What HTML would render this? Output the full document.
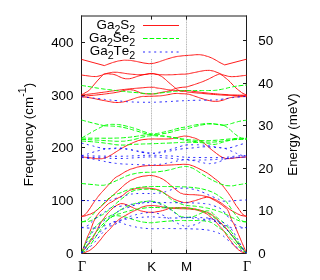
<!DOCTYPE html>
<html><head><meta charset="utf-8"><title>Phonon dispersion</title>
<style>
html,body{margin:0;padding:0;background:#fff;}
body{width:320px;height:280px;overflow:hidden;font-family:"Liberation Sans",sans-serif;}
svg{display:block;}
text{font-family:"Liberation Sans",sans-serif;font-size:13.4px;fill:#000;font-kerning:none;}
.sym{font-family:"Liberation Serif",serif;font-size:14px;}
.r{fill:none;stroke:#ff0000;stroke-width:0.9;}
.g{fill:none;stroke:#00ff00;stroke-width:1;stroke-dasharray:4.6 2;}
.b{fill:none;stroke:#0000ff;stroke-width:0.85;stroke-dasharray:2 3.6;}
.ax{fill:none;stroke:#1c1c1c;stroke-width:1;}
.grid0{fill:none;stroke:#e6e6e6;stroke-width:1;}
.grid{fill:none;stroke:#b4b4b4;stroke-width:1;stroke-dasharray:1 1.45;}
</style></head><body>
<svg width="320" height="280" viewBox="0 0 320 280">
<rect x="0" y="0" width="320" height="280" fill="#fff"/>
<g id="all" style="will-change:transform">
<!-- vertical guide lines -->
<path class="grid0" d="M151.5 59V250M186.5 19.5V250"/>
<path class="grid" d="M151.5 59V250M186.5 19.5V250"/>
<!-- frame + ticks -->
<path class="ax" d="M81.5 15.5V253.5H246.5V15.5M81 16H247"/>
<path class="ax" d="M82 42.5H85M82 95.5H85M82 147.5H85M82 200.5H85
M246 40.5H243M246 83.5H243M246 125.5H243M246 168.5H243M246 210.5H243
M151.5 16V19.6M186.5 16V19.6M151.5 253V249.6M186.5 253V249.6"/>
<!-- curves -->
<g>
<path class="r" d="M81.50 59.40L104.40 65.60M104.40 65.60C106.27 64.90 106.47 64.73 110.00 63.50C113.53 62.27 111.33 62.87 115.00 61.90C118.67 60.93 116.83 61.15 121.00 60.60C125.17 60.05 123.17 60.12 127.50 60.25C131.83 60.38 129.83 60.35 134.00 61.00C138.17 61.65 136.00 61.43 140.00 62.20C144.00 62.97 142.17 62.87 146.00 63.30C149.83 63.73 147.83 63.80 151.50 63.50C155.17 63.20 153.33 63.37 157.00 62.40C160.67 61.43 158.50 61.90 162.50 60.60C166.50 59.30 164.83 59.73 169.00 58.50C173.17 57.27 171.00 57.73 175.00 56.90C179.00 56.07 177.17 56.47 181.00 56.00C184.83 55.53 182.83 55.80 186.50 55.50C190.17 55.20 188.50 55.37 192.00 55.10C195.50 54.83 193.67 54.73 197.00 54.70C200.33 54.67 199.00 54.57 202.00 55.00C205.00 55.43 203.33 55.23 206.00 56.00C208.67 56.77 207.00 56.07 210.00 57.30C213.00 58.53 211.67 57.93 215.00 59.70C218.33 61.47 216.77 60.87 220.00 62.60C223.23 64.33 223.13 64.13 224.70 64.90M224.70 64.90L246.50 59.20"/>
<path class="r" d="M81.50 75.00C83.67 75.30 83.92 75.40 88.00 75.90C92.08 76.40 90.08 76.47 93.75 76.50C97.42 76.53 95.42 76.83 99.00 76.00C102.58 75.17 102.67 74.67 104.50 74.00M104.50 74.00C106.33 73.60 106.50 73.38 110.00 72.80C113.50 72.22 111.33 72.25 115.00 72.25C118.67 72.25 116.83 72.30 121.00 72.80C125.17 73.30 123.17 73.22 127.50 73.75C131.83 74.28 129.83 74.07 134.00 74.40C138.17 74.73 136.00 74.78 140.00 74.75C144.00 74.72 142.17 74.68 146.00 74.30C149.83 73.92 147.83 73.60 151.50 73.60C155.17 73.60 153.33 73.92 157.00 74.30C160.67 74.68 158.50 74.58 162.50 74.75C166.50 74.92 164.83 74.85 169.00 74.80C173.17 74.75 171.00 74.80 175.00 74.60C179.00 74.40 177.17 74.40 181.00 74.20C184.83 74.00 182.83 74.40 186.50 74.00C190.17 73.60 188.50 73.67 192.00 73.00C195.50 72.33 193.67 72.67 197.00 72.00C200.33 71.33 198.53 71.53 202.00 71.00C205.47 70.47 204.07 70.47 207.40 70.40C210.73 70.33 209.13 70.27 212.00 70.80C214.87 71.33 212.83 70.83 216.00 72.00C219.17 73.17 219.67 73.53 221.50 74.30M221.50 74.30C223.00 74.77 223.23 74.97 226.00 75.70C228.77 76.43 227.13 76.20 229.80 76.50C232.47 76.80 231.27 76.67 234.00 76.60C236.73 76.53 235.33 76.57 238.00 76.30C240.67 76.03 239.17 76.13 242.00 75.80C244.83 75.47 245.00 75.47 246.50 75.30"/>
<path class="r" d="M81.50 94.75C82.67 94.13 82.37 94.48 85.00 92.90C87.63 91.32 86.48 92.63 89.40 90.00C92.32 87.37 90.55 88.67 93.75 85.00C96.95 81.33 95.67 82.60 99.00 79.00C102.33 75.40 102.17 75.80 103.75 74.20M103.75 74.20C104.83 74.07 104.92 73.87 107.00 73.80C109.08 73.73 107.33 73.67 110.00 74.00C112.67 74.33 111.67 73.80 115.00 74.80C118.33 75.80 117.00 75.80 120.00 77.00C123.00 78.20 121.50 77.82 124.00 78.40C126.50 78.98 125.17 78.75 127.50 78.75C129.83 78.75 128.83 78.82 131.00 78.40C133.17 77.98 131.00 78.43 134.00 77.50C137.00 76.57 136.00 76.67 140.00 75.60C144.00 74.53 142.17 74.92 146.00 74.30C149.83 73.68 148.17 73.75 151.50 73.75C154.83 73.75 153.17 73.68 156.00 74.30C158.83 74.92 157.33 74.27 160.00 75.60C162.67 76.93 161.08 76.00 164.00 78.30C166.92 80.60 165.92 80.07 168.75 82.50C171.58 84.93 170.00 83.52 172.50 85.60C175.00 87.68 174.08 87.12 176.25 88.75C178.42 90.38 177.08 89.65 179.00 90.50C180.92 91.35 179.50 90.97 182.00 91.30C184.50 91.63 185.00 91.43 186.50 91.50"/>
<path class="r" d="M186.50 87.00C188.33 86.43 188.17 86.53 192.00 85.30C195.83 84.07 193.53 84.90 198.00 83.30C202.47 81.70 200.73 82.50 205.40 80.50C210.07 78.50 208.47 79.03 212.00 77.30C215.53 75.57 213.47 76.40 216.00 75.30C218.53 74.20 218.40 74.43 219.60 74.00M219.60 74.00C220.40 74.40 220.20 74.03 222.00 75.20C223.80 76.37 222.73 75.67 225.00 77.50C227.27 79.33 226.47 78.53 228.80 80.70C231.13 82.87 229.63 81.60 232.00 84.00C234.37 86.40 233.23 85.47 235.90 87.90C238.57 90.33 237.63 89.47 240.00 91.30C242.37 93.13 240.83 92.23 243.00 93.40C245.17 94.57 245.33 94.33 246.50 94.80"/>
<path class="r" d="M81.50 94.90C84.33 94.60 83.83 94.73 90.00 94.00C96.17 93.27 94.00 93.50 100.00 92.70C106.00 91.90 103.00 92.30 108.00 91.60C113.00 90.90 110.00 91.27 115.00 90.60C120.00 89.93 117.67 90.22 123.00 89.60C128.33 88.98 125.33 89.28 131.00 88.75C136.67 88.22 133.17 88.50 140.00 88.00C146.83 87.50 145.83 87.25 151.50 87.25C157.17 87.25 153.33 87.50 157.00 88.00C160.67 88.50 158.17 88.08 162.50 88.75C166.83 89.42 165.00 89.38 170.00 90.00C175.00 90.62 172.00 90.40 177.50 90.60C183.00 90.80 180.67 90.27 186.50 90.60C192.33 90.93 188.83 90.87 195.00 91.60C201.17 92.33 198.17 92.07 205.00 92.80C211.83 93.53 208.83 93.23 215.50 93.80C222.17 94.37 218.50 94.10 225.00 94.50C231.50 94.90 227.83 94.77 235.00 95.00C242.17 95.23 242.67 95.13 246.50 95.20"/>
<path class="r" d="M81.50 96.40C84.33 96.13 83.83 96.20 90.00 95.60C96.17 95.00 94.00 95.27 100.00 94.60C106.00 93.93 103.00 94.27 108.00 93.60C113.00 92.93 111.00 93.27 115.00 92.60C119.00 91.93 117.00 92.30 120.00 91.60C123.00 90.90 121.33 91.12 124.00 90.50C126.67 89.88 125.33 89.95 128.00 89.75C130.67 89.55 129.67 89.62 132.00 89.90C134.33 90.18 132.67 89.83 135.00 90.60C137.33 91.37 136.67 91.30 139.00 92.20C141.33 93.10 139.67 92.77 142.00 93.30C144.33 93.83 142.83 93.57 146.00 93.80C149.17 94.03 147.83 94.17 151.50 94.00C155.17 93.83 153.17 93.93 157.00 93.30C160.83 92.67 159.08 92.87 163.00 92.10C166.92 91.33 165.75 91.70 168.75 91.00C171.75 90.30 169.92 90.75 172.00 90.00C174.08 89.25 172.33 89.55 175.00 88.75C177.67 87.95 176.17 88.18 180.00 87.60C183.83 87.02 184.33 87.20 186.50 87.00"/>
<path class="r" d="M186.50 92.00C189.33 92.27 188.83 92.23 195.00 92.80C201.17 93.37 198.17 93.10 205.00 93.70C211.83 94.30 208.83 94.10 215.50 94.60C222.17 95.10 218.50 94.87 225.00 95.20C231.50 95.53 227.83 95.40 235.00 95.60C242.17 95.80 242.67 95.73 246.50 95.80"/>
<path class="r" d="M81.50 96.90C84.33 97.20 83.83 96.83 90.00 97.80C96.17 98.77 94.00 98.63 100.00 99.80C106.00 100.97 103.67 100.50 108.00 101.30C112.33 102.10 110.00 101.80 113.00 102.20C116.00 102.60 114.33 102.50 117.00 102.50C119.67 102.50 118.33 102.53 121.00 102.20C123.67 101.87 121.33 102.47 125.00 101.50C128.67 100.53 127.00 100.83 132.00 99.30C137.00 97.77 135.33 97.87 140.00 96.90C144.67 95.93 142.17 96.62 146.00 96.40C149.83 96.18 147.83 96.38 151.50 96.25C155.17 96.12 153.33 96.22 157.00 96.00C160.67 95.78 158.50 96.10 162.50 95.60C166.50 95.10 164.83 95.20 169.00 94.50C173.17 93.80 171.00 93.77 175.00 93.50C179.00 93.23 177.17 93.53 181.00 93.70C184.83 93.87 183.17 93.60 186.50 94.00C189.83 94.40 187.83 94.03 191.00 94.90C194.17 95.77 192.33 95.37 196.00 96.60C199.67 97.83 198.00 97.37 202.00 98.60C206.00 99.83 203.50 99.40 208.00 100.30C212.50 101.20 210.83 101.27 215.50 101.30C220.17 101.33 218.17 101.27 222.00 100.40C225.83 99.53 223.73 99.70 227.00 98.70C230.27 97.70 228.13 98.03 231.80 97.40C235.47 96.77 233.10 97.07 238.00 96.80C242.90 96.53 243.67 96.67 246.50 96.60"/>
<path class="r" d="M81.50 156.90C84.33 157.20 84.25 157.18 90.00 157.80C95.75 158.42 93.75 158.75 98.75 158.75C103.75 158.75 101.25 158.85 105.00 157.80C108.75 156.75 106.67 157.37 110.00 155.60C113.33 153.83 111.67 154.57 115.00 152.50C118.33 150.43 116.67 151.40 120.00 149.40C123.33 147.40 121.25 148.47 125.00 146.50C128.75 144.53 127.58 145.17 131.25 143.50C134.92 141.83 133.08 142.60 136.00 141.50C138.92 140.40 136.67 140.93 140.00 140.20C143.33 139.47 142.17 139.70 146.00 139.30C149.83 138.90 146.83 139.10 151.50 139.00C156.17 138.90 153.83 139.07 160.00 139.00C166.17 138.93 164.67 139.20 170.00 138.80C175.33 138.40 172.25 138.53 176.00 137.80C179.75 137.07 177.75 137.13 181.25 136.60C184.75 136.07 182.75 135.90 186.50 136.20C190.25 136.50 189.33 136.70 192.50 137.50C195.67 138.30 193.50 137.57 196.00 138.60C198.50 139.63 197.67 139.30 200.00 140.60C202.33 141.90 200.92 141.03 203.00 142.50C205.08 143.97 203.50 142.70 206.25 145.00C209.00 147.30 208.33 146.97 211.25 149.40C214.17 151.83 212.75 150.57 215.00 152.30C217.25 154.03 216.00 153.17 218.00 154.60C220.00 156.03 219.00 155.50 221.00 156.60C223.00 157.70 221.83 157.23 224.00 157.90C226.17 158.57 224.83 158.47 227.50 158.60C230.17 158.73 228.50 158.63 232.00 158.30C235.50 157.97 233.17 158.07 238.00 157.60C242.83 157.13 243.67 157.13 246.50 156.90"/>
<path class="r" d="M81.50 216.25C82.67 215.67 82.58 216.58 85.00 214.50C87.42 212.42 85.83 214.00 88.75 210.00C91.67 206.00 91.25 206.10 93.75 202.50C96.25 198.90 94.37 201.70 96.25 199.20C98.13 196.70 96.48 198.48 99.40 195.00C102.32 191.52 101.05 193.12 105.00 188.75C108.95 184.38 107.92 185.48 111.25 181.90C114.58 178.32 112.08 180.30 115.00 178.00C117.92 175.70 115.83 177.47 120.00 175.00C124.17 172.53 122.83 172.87 127.50 170.60C132.17 168.33 129.83 169.53 134.00 168.20C138.17 166.87 136.00 167.40 140.00 166.60C144.00 165.80 142.17 166.17 146.00 165.80C149.83 165.43 146.83 165.63 151.50 165.50C156.17 165.37 153.83 165.57 160.00 165.40C166.17 165.23 164.00 165.27 170.00 165.00C176.00 164.73 172.50 164.80 178.00 164.60C183.50 164.40 182.17 164.17 186.50 164.40C190.83 164.63 188.17 164.50 191.00 165.30C193.83 166.10 192.00 165.50 195.00 166.80C198.00 168.10 196.53 167.47 200.00 169.20C203.47 170.93 202.07 170.07 205.40 172.00C208.73 173.93 206.63 172.58 210.00 175.00C213.37 177.42 212.50 176.92 215.50 179.25C218.50 181.58 216.67 179.88 219.00 182.00C221.33 184.12 220.27 183.07 222.50 185.60C224.73 188.13 223.62 186.88 225.70 189.60C227.78 192.32 226.65 190.72 228.75 193.75C230.85 196.78 229.92 195.37 232.00 198.70C234.08 202.03 233.00 200.65 235.00 203.75C237.00 206.85 236.33 205.65 238.00 208.00C239.67 210.35 238.33 208.63 240.00 210.80C241.67 212.97 240.83 212.67 243.00 214.50C245.17 216.33 245.33 215.70 246.50 216.30"/>
<path class="r" d="M81.50 253.00C82.50 250.33 82.50 250.33 84.50 245.00C86.50 239.67 85.47 242.00 87.50 237.00C89.53 232.00 89.10 233.67 90.60 230.00C92.10 226.33 90.53 229.67 92.00 226.00C93.47 222.33 92.67 223.33 95.00 219.00C97.33 214.67 96.67 216.00 99.00 213.00C101.33 210.00 99.33 212.67 102.00 210.00C104.67 207.33 104.33 207.40 107.00 205.00C109.67 202.60 108.33 203.87 110.00 202.80C111.67 201.73 109.67 203.20 112.00 201.80C114.33 200.40 114.00 200.37 117.00 198.60C120.00 196.83 118.33 198.17 121.00 196.50C123.67 194.83 122.83 195.23 125.00 193.60C127.17 191.97 124.83 193.00 127.50 191.60C130.17 190.20 128.83 190.57 133.00 189.40C137.17 188.23 135.67 188.53 140.00 188.10C144.33 187.67 142.17 187.97 146.00 188.10C149.83 188.23 148.17 188.10 151.50 188.50C154.83 188.90 153.17 188.60 156.00 189.30C158.83 190.00 156.58 188.90 160.00 190.60C163.42 192.30 162.08 191.83 166.25 194.40C170.42 196.97 169.58 196.57 172.50 198.30C175.42 200.03 172.08 198.43 175.00 199.60C177.92 200.77 177.42 200.83 181.25 201.80C185.08 202.77 182.75 202.68 186.50 202.50C190.25 202.32 189.00 202.08 192.50 201.25C196.00 200.42 194.08 200.88 197.00 200.00C199.92 199.12 198.58 199.40 201.25 198.60C203.92 197.80 202.58 198.00 205.00 197.60C207.42 197.20 205.83 196.77 208.50 197.40C211.17 198.03 209.58 197.70 213.00 199.50C216.42 201.30 215.08 200.43 218.75 202.80C222.42 205.17 221.42 204.60 224.00 206.60C226.58 208.60 225.00 207.10 226.50 208.80C228.00 210.50 227.00 208.50 228.50 211.70C230.00 214.90 229.50 214.80 231.00 218.40C232.50 222.00 231.60 219.70 233.00 222.50C234.40 225.30 232.87 221.63 235.20 226.80C237.53 231.97 237.40 231.93 240.00 238.00C242.60 244.07 240.83 240.00 243.00 245.00C245.17 250.00 245.33 250.33 246.50 253.00"/>
<path class="r" d="M81.50 216.50C82.67 216.30 82.83 216.47 85.00 215.90C87.17 215.33 85.67 215.67 88.00 214.80C90.33 213.93 89.00 214.90 92.00 213.30C95.00 211.70 93.67 212.60 97.00 210.00C100.33 207.40 98.67 208.50 102.00 205.50C105.33 202.50 104.33 203.50 107.00 201.00C109.67 198.50 107.83 200.07 110.00 198.00C112.17 195.93 111.17 196.93 113.50 194.80C115.83 192.67 114.83 193.53 117.00 191.60C119.17 189.67 116.50 192.03 120.00 189.00C123.50 185.97 122.83 185.83 127.50 182.50C132.17 179.17 129.83 180.87 134.00 179.00C138.17 177.13 136.00 177.93 140.00 176.90C144.00 175.87 142.17 176.33 146.00 175.90C149.83 175.47 147.67 175.27 151.50 175.60C155.33 175.93 154.33 176.00 157.50 176.90C160.67 177.80 158.50 177.07 161.00 178.30C163.50 179.53 162.33 178.77 165.00 180.60C167.67 182.43 166.50 181.70 169.00 183.80C171.50 185.90 169.25 184.20 172.50 186.90C175.75 189.60 175.58 189.70 178.75 191.90C181.92 194.10 179.42 192.67 182.00 193.50C184.58 194.33 181.33 193.90 186.50 194.40C191.67 194.90 191.33 194.38 197.50 195.00C203.67 195.62 200.00 195.08 205.00 196.25C210.00 197.42 207.50 196.48 212.50 198.50C217.50 200.52 215.42 199.50 220.00 202.30C224.58 205.10 222.58 204.27 226.25 206.90C229.92 209.53 228.08 208.33 231.00 210.20C233.92 212.07 232.33 211.07 235.00 212.50C237.67 213.93 236.67 213.47 239.00 214.50C241.33 215.53 239.50 215.00 242.00 215.60C244.50 216.20 245.00 216.07 246.50 216.30"/>
<path class="r" d="M81.50 253.00C83.33 250.67 83.33 250.92 87.00 246.00C90.67 241.08 89.50 242.92 92.50 238.25C95.50 233.58 93.83 236.08 96.00 232.00C98.17 227.92 97.00 229.67 99.00 226.00C101.00 222.33 100.17 223.83 102.00 221.00C103.83 218.17 102.83 219.77 104.50 217.50C106.17 215.23 105.33 216.20 107.00 214.20C108.67 212.20 107.83 213.23 109.50 211.50C111.17 209.77 110.17 210.67 112.00 209.00C113.83 207.33 112.67 208.07 115.00 206.50C117.33 204.93 116.67 205.23 119.00 204.30C121.33 203.37 119.67 203.60 122.00 203.70C124.33 203.80 122.92 203.53 126.00 204.60C129.08 205.67 127.58 205.30 131.25 206.90C134.92 208.50 132.83 207.87 137.00 209.40C141.17 210.93 138.92 210.55 143.75 211.50C148.58 212.45 147.08 212.18 151.50 212.25C155.92 212.32 153.33 212.25 157.00 211.70C160.67 211.15 159.17 211.43 162.50 210.60C165.83 209.77 164.50 209.97 167.00 209.20C169.50 208.43 166.50 208.83 170.00 208.30C173.50 207.77 172.00 207.77 177.50 207.60C183.00 207.43 181.67 207.50 186.50 207.80C191.33 208.10 188.33 207.93 192.00 208.50C195.67 209.07 193.17 208.47 197.50 209.50C201.83 210.53 200.83 210.23 205.00 211.60C209.17 212.97 207.00 211.97 210.00 213.60C213.00 215.23 211.20 214.20 214.00 216.50C216.80 218.80 215.57 217.83 218.40 220.50C221.23 223.17 219.70 221.67 222.50 224.50C225.30 227.33 223.30 224.83 226.80 229.00C230.30 233.17 228.60 231.33 233.00 237.00C237.40 242.67 235.50 240.67 240.00 246.00C244.50 251.33 244.33 250.67 246.50 253.00"/>
<path class="r" d="M81.50 253.00C83.00 252.67 82.33 253.58 86.00 252.00C89.67 250.42 88.17 251.75 92.50 248.25C96.83 244.75 94.83 246.25 99.00 241.50C103.17 236.75 101.53 237.97 105.00 234.00C108.47 230.03 106.90 232.27 109.40 229.60C111.90 226.93 110.30 228.47 112.50 226.00C114.70 223.53 113.50 224.63 116.00 222.20C118.50 219.77 117.83 220.40 120.00 218.70C122.17 217.00 120.17 218.47 122.50 217.10C124.83 215.73 124.08 216.20 127.00 214.60C129.92 213.00 127.92 213.97 131.25 212.30C134.58 210.63 132.83 211.50 137.00 209.60C141.17 207.70 138.92 207.93 143.75 206.60C148.58 205.27 147.08 205.80 151.50 205.60C155.92 205.40 153.33 205.57 157.00 206.00C160.67 206.43 158.17 206.20 162.50 206.90C166.83 207.60 164.83 207.53 170.00 208.10C175.17 208.67 172.50 208.33 178.00 208.60C183.50 208.87 181.83 208.63 186.50 208.90C191.17 209.17 188.33 208.93 192.00 209.40C195.67 209.87 193.17 209.10 197.50 210.30C201.83 211.50 200.83 210.93 205.00 213.00C209.17 215.07 206.67 213.83 210.00 216.50C213.33 219.17 212.00 218.00 215.00 221.00C218.00 224.00 216.20 222.33 219.00 225.50C221.80 228.67 220.57 226.83 223.40 230.50C226.23 234.17 224.70 232.57 227.50 236.50C230.30 240.43 228.97 238.63 231.80 242.30C234.63 245.97 233.27 244.67 236.00 247.50C238.73 250.33 237.67 249.20 240.00 250.80C242.33 252.40 240.83 251.57 243.00 252.30C245.17 253.03 245.33 252.77 246.50 253.00"/>
<path class="g" d="M81.50 85.40C84.33 85.87 83.83 85.77 90.00 86.80C96.17 87.83 93.33 87.50 100.00 88.50C106.67 89.50 103.33 88.97 110.00 89.80C116.67 90.63 111.67 90.10 120.00 91.00C128.33 91.90 124.50 91.58 135.00 92.50C145.50 93.42 143.17 93.58 151.50 93.75C159.83 93.92 153.83 93.62 160.00 93.00C166.17 92.38 164.00 92.53 170.00 91.90C176.00 91.27 172.50 91.53 178.00 91.10C183.50 90.67 179.17 90.77 186.50 90.60C193.83 90.43 192.17 90.63 200.00 90.60C207.83 90.57 204.83 90.60 210.00 90.50C215.17 90.40 212.17 90.60 215.50 90.30C218.83 90.00 216.83 90.17 220.00 89.60C223.17 89.03 221.07 89.47 225.00 88.60C228.93 87.73 226.80 87.97 231.80 87.00C236.80 86.03 235.10 86.37 240.00 85.70C244.90 85.03 244.33 85.23 246.50 85.00"/>
<path class="g" d="M81.50 120.00C85.00 120.93 84.58 120.93 92.00 122.80C99.42 124.67 99.83 124.67 103.75 125.60M103.75 125.60C105.50 125.27 105.25 125.00 109.00 124.60C112.75 124.20 111.33 124.33 115.00 124.40C118.67 124.47 116.67 124.33 120.00 124.80C123.33 125.27 120.00 124.57 125.00 125.80C130.00 127.03 128.33 126.43 135.00 128.50C141.67 130.57 139.50 130.25 145.00 132.00C150.50 133.75 147.83 133.22 151.50 133.75C155.17 134.28 153.17 133.92 156.00 133.60C158.83 133.28 155.33 133.77 160.00 132.80C164.67 131.83 164.00 132.17 170.00 130.70C176.00 129.23 172.50 129.70 178.00 128.40C183.50 127.10 181.83 127.73 186.50 126.80C191.17 125.87 188.50 126.30 192.00 125.60C195.50 124.90 193.00 125.30 197.00 124.70C201.00 124.10 199.67 124.20 204.00 123.80C208.33 123.40 205.67 123.37 210.00 123.50C214.33 123.63 212.42 123.62 217.00 124.20C221.58 124.78 221.50 124.90 223.75 125.25M223.75 125.25C225.50 124.90 225.25 125.12 229.00 124.20C232.75 123.28 231.00 123.57 235.00 122.50C239.00 121.43 237.17 121.75 241.00 121.00C244.83 120.25 244.67 120.50 246.50 120.25"/>
<path class="g" d="M81.50 138.10C83.00 137.23 82.50 137.53 86.00 135.50C89.50 133.47 88.00 134.27 92.00 132.00C96.00 129.73 94.08 130.77 98.00 128.70C101.92 126.63 101.83 126.77 103.75 125.80M103.75 125.80C105.50 125.87 105.25 125.85 109.00 126.00C112.75 126.15 111.33 125.98 115.00 126.25C118.67 126.52 116.67 126.28 120.00 126.80C123.33 127.32 120.00 126.57 125.00 127.80C130.00 129.03 128.33 128.60 135.00 130.50C141.67 132.40 139.50 132.00 145.00 133.50C150.50 135.00 147.83 134.53 151.50 135.00C155.17 135.47 153.17 135.17 156.00 134.90C158.83 134.63 155.33 135.03 160.00 134.20C164.67 133.37 164.00 133.73 170.00 132.40C176.00 131.07 172.50 131.43 178.00 130.20C183.50 128.97 181.83 129.67 186.50 128.70C191.17 127.73 188.50 128.20 192.00 127.30C195.50 126.40 193.00 126.90 197.00 126.00C201.00 125.10 199.67 125.27 204.00 124.60C208.33 123.93 205.67 124.03 210.00 124.00C214.33 123.97 212.42 124.03 217.00 124.50C221.58 124.97 221.50 125.10 223.75 125.40M223.75 125.40C225.17 126.27 225.08 125.83 228.00 128.00C230.92 130.17 229.83 129.63 232.50 131.90C235.17 134.17 233.50 132.93 236.00 134.80C238.50 136.67 237.67 136.27 240.00 137.50C242.33 138.73 240.83 138.08 243.00 138.50C245.17 138.92 245.33 138.67 246.50 138.75"/>
<path class="g" d="M81.50 138.10C87.67 138.13 88.83 138.20 100.00 138.20C111.17 138.20 106.67 138.30 115.00 138.10C123.33 137.90 118.33 138.13 125.00 137.60C131.67 137.07 129.00 137.30 135.00 136.50C141.00 135.70 137.50 135.87 143.00 135.20C148.50 134.53 145.83 134.37 151.50 134.50C157.17 134.63 155.17 135.03 160.00 135.60C164.83 136.17 161.00 135.50 166.00 136.20C171.00 136.90 168.17 136.63 175.00 137.70C181.83 138.77 179.83 138.57 186.50 139.40C193.17 140.23 189.25 139.80 195.00 140.20C200.75 140.60 197.08 140.57 203.75 140.60C210.42 140.63 207.92 140.70 215.00 140.30C222.08 139.90 218.33 140.00 225.00 139.40C231.67 138.80 227.83 138.93 235.00 138.50C242.17 138.07 242.67 138.23 246.50 138.10"/>
<path class="g" d="M81.50 139.40C86.00 139.60 86.17 139.53 95.00 140.00C103.83 140.47 99.67 140.38 108.00 140.80C116.33 141.22 113.33 141.32 120.00 141.25C126.67 141.18 122.67 141.35 128.00 140.60C133.33 139.85 130.67 140.27 136.00 139.00C141.33 137.73 138.83 137.87 144.00 136.80C149.17 135.73 146.83 136.07 151.50 135.80C156.17 135.53 153.17 135.73 158.00 136.00C162.83 136.27 160.33 135.93 166.00 136.60C171.67 137.27 168.17 136.70 175.00 138.00C181.83 139.30 179.83 139.33 186.50 140.50C193.17 141.67 188.83 141.00 195.00 141.50C201.17 142.00 198.00 141.87 205.00 142.00C212.00 142.13 208.33 142.47 216.00 141.90C223.67 141.33 220.67 141.20 228.00 140.30C235.33 139.40 231.83 139.70 238.00 139.20C244.17 138.70 243.67 138.93 246.50 138.80"/>
<path class="g" d="M81.50 141.00C84.33 141.20 83.83 141.10 90.00 141.60C96.17 142.10 93.33 141.77 100.00 142.50C106.67 143.23 103.33 142.97 110.00 143.80C116.67 144.63 113.33 144.73 120.00 145.00C126.67 145.27 123.33 144.90 130.00 144.60C136.67 144.30 132.83 144.38 140.00 144.10C147.17 143.82 144.83 143.98 151.50 143.75C158.17 143.52 153.83 143.65 160.00 143.40C166.17 143.15 163.33 143.30 170.00 143.00C176.67 142.70 174.50 142.75 180.00 142.50C185.50 142.25 181.50 142.28 186.50 142.25C191.50 142.22 189.25 142.18 195.00 142.40C200.75 142.62 198.75 142.37 203.75 142.90C208.75 143.43 206.67 143.50 210.00 144.00C213.33 144.50 211.08 144.50 213.75 144.40C216.42 144.30 215.08 144.42 218.00 143.70C220.92 142.98 219.17 143.22 222.50 142.25C225.83 141.28 223.83 141.68 228.00 140.80C232.17 139.92 228.83 140.07 235.00 139.60C241.17 139.13 242.67 139.47 246.50 139.40"/>
<path class="g" d="M81.50 183.50C85.00 183.83 85.42 183.92 92.00 184.50C98.58 185.08 96.58 185.18 101.25 185.25C105.92 185.32 103.08 185.28 106.00 184.70C108.92 184.12 107.00 184.65 110.00 183.50C113.00 182.35 111.67 182.75 115.00 181.25C118.33 179.75 115.83 180.88 120.00 179.00C124.17 177.12 122.83 177.33 127.50 175.60C132.17 173.87 129.83 174.75 134.00 173.80C138.17 172.85 136.00 173.25 140.00 172.75C144.00 172.25 142.17 172.47 146.00 172.30C149.83 172.13 146.83 172.52 151.50 172.25C156.17 171.98 154.25 172.25 160.00 171.50C165.75 170.75 162.92 171.25 168.75 170.00C174.58 168.75 173.08 168.78 177.50 167.75C181.92 166.72 179.00 167.32 182.00 166.90C185.00 166.48 183.50 166.27 186.50 166.50C189.50 166.73 188.17 166.60 191.00 167.60C193.83 168.60 192.00 167.80 195.00 169.50C198.00 171.20 196.53 170.47 200.00 172.70C203.47 174.93 202.07 174.13 205.40 176.20C208.73 178.27 206.63 177.07 210.00 178.90C213.37 180.73 211.60 179.90 215.50 181.70C219.40 183.50 216.93 182.93 221.70 184.30C226.47 185.67 224.37 185.63 229.80 185.80C235.23 185.97 232.43 185.60 238.00 184.80C243.57 184.00 243.67 183.87 246.50 183.40"/>
<path class="g" d="M81.50 221.90C82.67 221.60 82.83 221.80 85.00 221.00C87.17 220.20 85.67 221.33 88.00 219.50C90.33 217.67 89.33 218.33 92.00 215.50C94.67 212.67 93.33 213.83 96.00 211.00C98.67 208.17 97.33 209.67 100.00 207.00C102.67 204.33 101.33 205.67 104.00 203.00C106.67 200.33 105.67 201.17 108.00 199.00C110.33 196.83 108.67 198.00 111.00 196.50C113.33 195.00 112.00 195.67 115.00 194.50C118.00 193.33 115.83 194.50 120.00 193.00C124.17 191.50 122.83 191.57 127.50 190.00C132.17 188.43 129.83 189.22 134.00 188.30C138.17 187.38 136.00 187.78 140.00 187.25C144.00 186.72 142.17 186.95 146.00 186.70C149.83 186.45 146.83 186.57 151.50 186.50C156.17 186.43 153.83 186.47 160.00 186.50C166.17 186.53 163.33 186.50 170.00 186.60C176.67 186.70 174.50 186.67 180.00 186.80C185.50 186.93 180.67 186.57 186.50 187.00C192.33 187.43 191.67 187.30 197.50 188.10C203.33 188.90 199.83 188.35 204.00 189.40C208.17 190.45 206.67 190.05 210.00 191.25C213.33 192.45 211.50 191.75 214.00 193.00C216.50 194.25 215.17 193.50 217.50 195.00C219.83 196.50 218.50 195.67 221.00 197.50C223.50 199.33 222.33 197.83 225.00 200.50C227.67 203.17 226.50 202.13 229.00 205.50C231.50 208.87 229.83 206.93 232.50 210.60C235.17 214.27 234.17 213.27 237.00 216.50C239.83 219.73 237.83 218.50 241.00 220.30C244.17 222.10 244.67 221.37 246.50 221.90"/>
<path class="g" d="M81.50 221.90C83.33 221.73 84.17 221.70 87.00 221.40C89.83 221.10 87.33 221.97 90.00 221.00C92.67 220.03 91.67 220.17 95.00 218.50C98.33 216.83 96.67 217.83 100.00 216.00C103.33 214.17 101.33 215.67 105.00 213.00C108.67 210.33 107.67 210.83 111.00 208.00C114.33 205.17 112.33 206.83 115.00 204.50C117.67 202.17 116.00 203.50 119.00 201.00C122.00 198.50 121.17 199.33 124.00 197.00C126.83 194.67 124.50 196.00 127.50 194.00C130.50 192.00 128.83 192.47 133.00 191.00C137.17 189.53 135.67 190.20 140.00 189.60C144.33 189.00 142.17 189.27 146.00 189.20C149.83 189.13 148.17 189.13 151.50 189.40C154.83 189.67 153.17 189.38 156.00 190.00C158.83 190.62 157.42 190.25 160.00 191.25C162.58 192.25 160.83 190.98 163.75 193.00C166.67 195.02 166.00 194.97 168.75 197.30C171.50 199.63 169.92 198.57 172.00 200.00C174.08 201.43 172.75 200.60 175.00 201.60C177.25 202.60 176.42 202.10 178.75 203.00C181.08 203.90 179.42 203.50 182.00 204.30C184.58 205.10 183.17 204.87 186.50 205.40C189.83 205.93 188.33 205.53 192.00 205.90C195.67 206.27 193.50 205.97 197.50 206.50C201.50 207.03 199.83 206.75 204.00 207.50C208.17 208.25 205.67 207.65 210.00 208.75C214.33 209.85 212.00 209.08 217.00 210.80C222.00 212.52 219.80 211.57 225.00 213.90C230.20 216.23 228.27 215.67 232.60 217.80C236.93 219.93 234.87 219.07 238.00 220.30C241.13 221.53 239.17 220.97 242.00 221.50C244.83 222.03 245.00 221.77 246.50 221.90"/>
<path class="g" d="M81.50 253.00C82.67 250.17 82.50 250.00 85.00 244.50C87.50 239.00 86.00 241.83 89.00 236.50C92.00 231.17 90.33 233.17 94.00 228.50C97.67 223.83 96.33 225.73 100.00 222.50C103.67 219.27 101.67 220.97 105.00 218.80C108.33 216.63 106.67 217.77 110.00 216.00C113.33 214.23 111.33 215.63 115.00 213.50C118.67 211.37 116.83 212.02 121.00 209.60C125.17 207.18 123.50 208.05 127.50 206.25C131.50 204.45 129.83 205.32 133.00 204.20C136.17 203.08 134.33 203.63 137.00 202.90C139.67 202.17 138.33 202.47 141.00 202.00C143.67 201.53 141.50 201.75 145.00 201.50C148.50 201.25 147.50 200.92 151.50 201.25C155.50 201.58 153.33 201.45 157.00 202.50C160.67 203.55 159.50 203.13 162.50 204.40C165.50 205.67 163.50 204.85 166.00 206.30C168.50 207.75 167.00 206.68 170.00 208.75C173.00 210.82 171.67 210.08 175.00 212.50C178.33 214.92 177.33 214.50 180.00 216.00C182.67 217.50 180.83 216.58 183.00 217.00C185.17 217.42 184.17 217.22 186.50 217.25C188.83 217.28 187.58 217.38 190.00 217.10C192.42 216.82 191.25 217.17 193.75 216.40C196.25 215.63 195.00 215.90 197.50 214.80C200.00 213.70 198.92 214.17 201.25 213.10C203.58 212.03 202.42 212.37 204.50 211.60C206.58 210.83 205.50 210.80 207.50 210.80C209.50 210.80 208.67 210.70 210.50 211.60C212.33 212.50 211.08 211.73 213.00 213.50C214.92 215.27 213.75 214.67 216.25 216.90C218.75 219.13 217.58 217.83 220.50 220.20C223.42 222.57 221.50 220.23 225.00 224.00C228.50 227.77 227.00 226.17 231.00 231.50C235.00 236.83 233.33 234.67 237.00 240.00C240.67 245.33 238.83 243.17 242.00 247.50C245.17 251.83 245.00 251.17 246.50 253.00"/>
<path class="g" d="M81.50 253.00C83.00 250.83 82.83 251.17 86.00 246.50C89.17 241.83 87.33 244.17 91.00 239.00C94.67 233.83 93.00 236.00 97.00 231.00C101.00 226.00 99.00 228.00 103.00 224.00C107.00 220.00 105.00 221.87 109.00 219.00C113.00 216.13 110.67 217.40 115.00 215.40C119.33 213.40 117.33 214.47 122.00 213.00C126.67 211.53 124.33 212.20 129.00 211.00C133.67 209.80 131.00 210.37 136.00 209.40C141.00 208.43 138.83 208.73 144.00 208.10C149.17 207.47 144.50 207.60 151.50 207.50C158.50 207.40 157.17 207.63 165.00 207.80C172.83 207.97 167.83 207.87 175.00 208.00C182.17 208.13 180.83 207.93 186.50 208.20C192.17 208.47 188.33 208.27 192.00 208.80C195.67 209.33 193.17 208.73 197.50 209.80C201.83 210.87 200.83 210.43 205.00 212.00C209.17 213.57 207.00 212.67 210.00 214.50C213.00 216.33 211.08 215.07 214.00 217.50C216.92 219.93 215.35 218.57 218.75 221.80C222.15 225.03 220.82 223.83 224.20 227.20C227.58 230.57 225.50 228.17 228.90 231.90C232.30 235.63 231.30 234.37 234.40 238.40C237.50 242.43 235.67 240.53 238.20 244.00C240.73 247.47 239.23 245.80 242.00 248.80C244.77 251.80 245.00 251.60 246.50 253.00"/>
<path class="g" d="M81.50 253.00C83.33 251.67 83.17 253.00 87.00 249.00C90.83 245.00 89.00 246.67 93.00 241.00C97.00 235.33 95.33 237.33 99.00 232.00C102.67 226.67 101.00 229.00 104.00 225.00C107.00 221.00 105.33 222.73 108.00 220.00C110.67 217.27 109.67 218.17 112.00 216.80C114.33 215.43 112.67 216.20 115.00 215.90C117.33 215.60 116.33 215.67 119.00 215.90C121.67 216.13 120.17 216.00 123.00 216.60C125.83 217.20 123.83 216.63 127.50 217.70C131.17 218.77 129.83 218.57 134.00 219.80C138.17 221.03 136.00 220.53 140.00 221.40C144.00 222.27 142.17 221.97 146.00 222.40C149.83 222.83 147.83 222.77 151.50 222.70C155.17 222.63 153.33 222.57 157.00 222.20C160.67 221.83 158.17 222.00 162.50 221.60C166.83 221.20 165.83 221.30 170.00 221.00C174.17 220.70 171.33 220.87 175.00 220.70C178.67 220.53 177.17 220.53 181.00 220.50C184.83 220.47 181.83 220.60 186.50 220.60C191.17 220.60 190.08 220.47 195.00 220.50C199.92 220.53 197.58 220.47 201.25 220.70C204.92 220.93 203.08 220.77 206.00 221.20C208.92 221.63 207.67 221.23 210.00 222.00C212.33 222.77 210.92 222.23 213.00 223.50C215.08 224.77 213.75 224.03 216.25 225.80C218.75 227.57 217.58 226.63 220.50 228.80C223.42 230.97 221.50 229.07 225.00 232.30C228.50 235.53 227.00 234.27 231.00 238.50C235.00 242.73 233.33 241.17 237.00 245.00C240.67 248.83 238.83 247.33 242.00 250.00C245.17 252.67 245.00 252.00 246.50 253.00"/>
<path class="b" d="M81.50 96.50C84.33 96.90 83.83 96.93 90.00 97.70C96.17 98.47 94.00 98.10 100.00 98.80C106.00 99.50 102.67 99.20 108.00 99.80C113.33 100.40 110.67 100.07 116.00 100.60C121.33 101.13 119.00 100.97 124.00 101.40C129.00 101.83 125.67 101.63 131.00 101.90C136.33 102.17 133.17 102.08 140.00 102.20C146.83 102.32 144.83 102.32 151.50 102.25C158.17 102.18 153.83 102.25 160.00 102.00C166.17 101.75 164.00 101.83 170.00 101.50C176.00 101.17 172.50 101.30 178.00 101.00C183.50 100.70 180.83 100.83 186.50 100.60C192.17 100.37 188.83 100.47 195.00 100.30C201.17 100.13 198.33 100.23 205.00 100.10C211.67 99.97 209.33 100.20 215.00 99.90C220.67 99.60 217.00 99.83 222.00 99.20C227.00 98.57 224.67 98.73 230.00 98.00C235.33 97.27 232.50 97.53 238.00 97.00C243.50 96.47 243.67 96.60 246.50 96.40"/>
<path class="b" d="M81.50 143.10C84.33 143.80 84.25 143.73 90.00 145.20C95.75 146.67 93.75 146.37 98.75 147.50C103.75 148.63 100.58 148.33 105.00 148.60C109.42 148.87 107.00 148.50 112.00 148.30C117.00 148.10 114.67 147.77 120.00 148.00C125.33 148.23 123.00 148.20 128.00 149.00C133.00 149.80 130.00 149.40 135.00 150.40C140.00 151.40 137.50 151.13 143.00 152.00C148.50 152.87 146.83 152.83 151.50 153.00C156.17 153.17 153.50 153.00 157.00 152.50C160.50 152.00 158.00 152.40 162.00 151.50C166.00 150.60 164.67 150.93 169.00 149.80C173.33 148.67 171.00 149.30 175.00 148.10C179.00 146.90 177.17 147.23 181.00 146.20C184.83 145.17 182.17 145.47 186.50 145.00C190.83 144.53 189.17 144.80 194.00 144.80C198.83 144.80 195.67 144.60 201.00 145.00C206.33 145.40 204.33 145.23 210.00 146.00C215.67 146.77 214.00 146.63 218.00 147.30C222.00 147.97 219.25 147.67 222.00 148.00C224.75 148.33 223.25 148.47 226.25 148.30C229.25 148.13 227.75 148.27 231.00 147.50C234.25 146.73 232.67 147.03 236.00 146.00C239.33 144.97 237.50 145.37 241.00 144.40C244.50 143.43 244.67 143.53 246.50 143.10"/>
<path class="b" d="M81.50 155.60C83.00 155.23 83.17 155.30 86.00 154.50C88.83 153.70 87.33 154.07 90.00 153.20C92.67 152.33 91.08 152.77 94.00 151.90C96.92 151.03 96.08 151.33 98.75 150.60C101.42 149.87 99.92 150.17 102.00 149.70C104.08 149.23 101.67 149.50 105.00 149.20C108.33 148.90 107.00 149.00 112.00 148.80C117.00 148.60 114.67 148.37 120.00 148.60C125.33 148.83 123.00 148.73 128.00 149.50C133.00 150.27 130.00 149.90 135.00 150.90C140.00 151.90 137.50 151.67 143.00 152.50C148.50 153.33 146.83 153.20 151.50 153.40C156.17 153.60 153.50 153.43 157.00 153.10C160.50 152.77 158.00 153.03 162.00 152.40C166.00 151.77 164.67 152.00 169.00 151.20C173.33 150.40 171.00 150.73 175.00 150.00C179.00 149.27 177.17 149.50 181.00 149.00C184.83 148.50 182.83 148.83 186.50 148.50C190.17 148.17 188.33 148.37 192.00 148.00C195.67 147.63 193.50 147.80 197.50 147.40C201.50 147.00 199.83 146.93 204.00 146.80C208.17 146.67 206.00 146.77 210.00 147.00C214.00 147.23 211.83 147.20 216.00 147.50C220.17 147.80 219.17 147.47 222.50 147.90C225.83 148.33 224.17 148.20 226.00 148.80C227.83 149.40 226.17 148.90 228.00 149.70C229.83 150.50 229.17 150.20 231.50 151.20C233.83 152.20 232.83 151.77 235.00 152.70C237.17 153.63 235.92 153.17 238.00 154.00C240.08 154.83 239.25 154.60 241.25 155.20C243.25 155.80 242.25 155.53 244.00 155.80C245.75 156.07 245.67 155.93 246.50 156.00"/>
<path class="b" d="M81.50 155.80C87.67 155.90 87.17 155.95 100.00 156.10C112.83 156.25 108.33 156.35 120.00 156.25C131.67 156.15 124.50 156.13 135.00 155.80C145.50 155.47 141.50 155.25 151.50 155.25C161.50 155.25 157.17 155.47 165.00 155.80C172.83 156.13 167.83 155.77 175.00 156.25C182.17 156.73 178.17 156.83 186.50 157.25C194.83 157.67 190.50 157.38 200.00 157.50C209.50 157.62 206.67 157.63 215.00 157.60C223.33 157.57 218.33 157.87 225.00 157.40C231.67 156.93 227.83 156.83 235.00 156.20C242.17 155.57 242.67 155.73 246.50 155.50"/>
<path class="b" d="M81.50 157.00C87.67 157.27 87.17 157.30 100.00 157.80C112.83 158.30 108.33 158.50 120.00 158.50C131.67 158.50 124.50 158.33 135.00 157.80C145.50 157.27 141.50 156.87 151.50 156.90C161.50 156.93 157.17 157.28 165.00 157.90C172.83 158.52 167.83 158.05 175.00 158.75C182.17 159.45 179.83 159.55 186.50 160.00C193.17 160.45 190.17 160.10 195.00 160.10C199.83 160.10 196.00 160.10 201.00 160.00C206.00 159.90 204.33 160.03 210.00 159.80C215.67 159.57 212.67 159.67 218.00 159.30C223.33 158.93 220.00 159.27 226.00 158.70C232.00 158.13 229.17 158.20 236.00 157.60C242.83 157.00 243.00 157.13 246.50 156.90"/>
<path class="b" d="M81.50 157.50C83.67 157.77 83.50 157.63 88.00 158.30C92.50 158.97 90.00 158.57 95.00 159.50C100.00 160.43 98.00 160.10 103.00 161.10C108.00 162.10 104.33 161.62 110.00 162.50C115.67 163.38 114.00 163.18 120.00 163.75C126.00 164.32 123.00 163.95 128.00 164.20C133.00 164.45 130.00 164.30 135.00 164.50C140.00 164.70 137.50 164.63 143.00 164.80C148.50 164.97 146.83 165.07 151.50 165.00C156.17 164.93 153.50 164.93 157.00 164.60C160.50 164.27 158.00 164.60 162.00 164.00C166.00 163.40 164.67 163.63 169.00 162.80C173.33 161.97 171.00 162.37 175.00 161.50C179.00 160.63 177.17 160.90 181.00 160.20C184.83 159.50 182.83 159.37 186.50 159.40C190.17 159.43 188.33 159.60 192.00 160.30C195.67 161.00 194.17 160.73 197.50 161.50C200.83 162.27 198.67 161.93 202.00 162.60C205.33 163.27 204.50 163.20 207.50 163.50C210.50 163.80 208.50 163.67 211.00 163.50C213.50 163.33 212.67 163.43 215.00 163.00C217.33 162.57 216.00 162.87 218.00 162.20C220.00 161.53 218.33 162.10 221.00 161.00C223.67 159.90 222.33 159.97 226.00 158.90C229.67 157.83 227.33 158.37 232.00 157.80C236.67 157.23 235.17 157.47 240.00 157.20C244.83 156.93 244.33 157.07 246.50 157.00"/>
<path class="b" d="M81.50 227.60C83.33 227.07 83.83 227.70 87.00 226.00C90.17 224.30 88.00 225.17 91.00 222.50C94.00 219.83 93.00 220.50 96.00 218.00C99.00 215.50 97.33 216.83 100.00 215.00C102.67 213.17 101.00 214.50 104.00 212.50C107.00 210.50 106.00 210.83 109.00 209.00C112.00 207.17 109.33 207.90 113.00 207.00C116.67 206.10 116.00 206.83 120.00 206.30C124.00 205.77 121.67 206.00 125.00 205.40C128.33 204.80 127.00 204.97 130.00 204.50C133.00 204.03 130.67 204.43 134.00 204.00C137.33 203.57 134.17 203.70 140.00 203.20C145.83 202.70 143.17 202.70 151.50 202.50C159.83 202.30 157.17 202.53 165.00 202.60C172.83 202.67 167.83 202.65 175.00 202.70C182.17 202.75 180.83 202.68 186.50 202.75C192.17 202.82 188.33 202.78 192.00 202.90C195.67 203.02 193.83 202.90 197.50 203.10C201.17 203.30 199.67 203.20 203.00 203.50C206.33 203.80 204.83 203.53 207.50 204.00C210.17 204.47 208.50 204.15 211.00 204.90C213.50 205.65 212.13 205.22 215.00 206.25C217.87 207.28 216.53 206.08 219.60 208.00C222.67 209.92 221.40 209.07 224.20 212.00C227.00 214.93 225.50 213.70 228.00 216.80C230.50 219.90 229.37 218.77 231.70 221.30C234.03 223.83 232.57 222.73 235.00 224.40C237.43 226.07 236.33 225.30 239.00 226.30C241.67 227.30 240.50 226.97 243.00 227.40C245.50 227.83 245.33 227.53 246.50 227.60"/>
<path class="b" d="M81.50 200.60C84.33 200.60 83.83 200.60 90.00 200.60C96.17 200.60 94.00 200.63 100.00 200.60C106.00 200.57 104.00 200.77 108.00 200.50C112.00 200.23 109.67 200.43 112.00 199.80C114.33 199.17 112.67 199.37 115.00 198.60C117.33 197.83 116.00 198.37 119.00 197.50C122.00 196.63 120.67 196.97 124.00 196.00C127.33 195.03 125.67 195.33 129.00 194.60C132.33 193.87 130.33 194.17 134.00 193.80C137.67 193.43 134.17 193.60 140.00 193.50C145.83 193.40 145.83 193.60 151.50 193.50C157.17 193.40 153.33 193.53 157.00 193.20C160.67 192.87 158.58 193.37 162.50 192.50C166.42 191.63 164.58 191.85 168.75 190.60C172.92 189.35 170.92 189.55 175.00 188.75C179.08 187.95 177.17 188.42 181.00 188.20C184.83 187.98 182.83 187.83 186.50 188.10C190.17 188.37 188.33 188.28 192.00 189.00C195.67 189.72 193.50 188.98 197.50 190.25C201.50 191.52 199.83 191.02 204.00 192.80C208.17 194.58 206.67 194.10 210.00 195.60C213.33 197.10 211.50 196.25 214.00 197.30C216.50 198.35 215.33 197.78 217.50 198.75C219.67 199.72 218.42 199.38 220.50 200.20C222.58 201.02 221.25 200.87 223.75 201.20C226.25 201.53 224.25 201.40 228.00 201.20C231.75 201.00 230.67 200.93 235.00 200.60C239.33 200.27 237.17 200.40 241.00 200.20C244.83 200.00 244.67 200.07 246.50 200.00"/>
<path class="b" d="M81.50 253.00C82.67 250.50 82.50 250.50 85.00 245.50C87.50 240.50 86.33 242.67 89.00 238.00C91.67 233.33 90.33 235.33 93.00 231.50C95.67 227.67 93.67 229.83 97.00 226.50C100.33 223.17 99.67 224.00 103.00 221.50C106.33 219.00 104.33 220.50 107.00 219.00C109.67 217.50 108.33 218.83 111.00 217.00C113.67 215.17 111.33 216.00 115.00 213.50C118.67 211.00 117.67 211.50 122.00 209.50C126.33 207.50 124.00 208.90 128.00 207.50C132.00 206.10 130.00 206.70 134.00 205.30C138.00 203.90 136.00 204.47 140.00 203.30C144.00 202.13 142.17 202.48 146.00 201.80C149.83 201.12 147.83 200.85 151.50 201.25C155.17 201.65 153.33 201.55 157.00 203.00C160.67 204.45 159.50 204.13 162.50 205.60C165.50 207.07 163.50 206.13 166.00 207.40C168.50 208.67 167.33 207.77 170.00 209.40C172.67 211.03 171.50 210.43 174.00 212.30C176.50 214.17 175.08 213.37 177.50 215.00C179.92 216.63 178.25 216.37 181.25 217.20C184.25 218.03 182.92 217.40 186.50 217.50C190.08 217.60 188.33 217.50 192.00 217.50C195.67 217.50 193.83 217.43 197.50 217.50C201.17 217.57 199.67 217.53 203.00 217.70C206.33 217.87 204.50 217.57 207.50 218.00C210.50 218.43 209.08 218.13 212.00 219.00C214.92 219.87 213.42 219.67 216.25 220.60C219.08 221.53 217.58 220.83 220.50 221.80C223.42 222.77 221.90 221.70 225.00 223.50C228.10 225.30 227.47 225.03 229.80 227.20C232.13 229.37 230.47 227.83 232.00 230.00C233.53 232.17 232.33 230.30 234.40 233.70C236.47 237.10 235.67 235.77 238.20 240.20C240.73 244.63 239.23 242.73 242.00 247.00C244.77 251.27 245.00 251.00 246.50 253.00"/>
<path class="b" d="M81.50 227.60C83.67 227.73 83.50 227.87 88.00 228.00C92.50 228.13 90.33 228.50 95.00 228.00C99.67 227.50 97.67 227.67 102.00 226.50C106.33 225.33 103.67 226.00 108.00 224.50C112.33 223.00 110.67 223.50 115.00 222.00C119.33 220.50 116.83 221.00 121.00 220.00C125.17 219.00 123.25 219.67 127.50 219.00C131.75 218.33 129.58 218.53 133.75 218.00C137.92 217.47 134.08 217.77 140.00 217.40C145.92 217.03 145.50 216.93 151.50 216.90C157.50 216.87 153.17 217.02 158.00 217.30C162.83 217.58 160.00 217.52 166.00 217.75C172.00 217.98 169.17 218.05 176.00 218.00C182.83 217.95 181.50 217.63 186.50 217.60C191.50 217.57 187.83 217.57 191.00 217.90C194.17 218.23 192.67 218.17 196.00 218.60C199.33 219.03 197.17 218.87 201.00 219.20C204.83 219.53 203.17 218.93 207.50 219.60C211.83 220.27 209.83 219.90 214.00 221.20C218.17 222.50 216.00 221.90 220.00 223.50C224.00 225.10 222.00 224.63 226.00 226.00C230.00 227.37 228.00 226.93 232.00 227.60C236.00 228.27 233.17 228.00 238.00 228.00C242.83 228.00 243.67 227.73 246.50 227.60"/>
<path class="b" d="M81.50 253.00C83.00 251.17 82.83 251.33 86.00 247.50C89.17 243.67 87.33 245.67 91.00 241.50C94.67 237.33 93.00 238.83 97.00 235.00C101.00 231.17 99.00 232.80 103.00 230.00C107.00 227.20 105.00 228.47 109.00 226.60C113.00 224.73 111.00 226.40 115.00 224.40C119.00 222.40 116.83 222.90 121.00 220.60C125.17 218.30 123.17 219.27 127.50 217.50C131.83 215.73 129.83 216.55 134.00 215.30C138.17 214.05 136.00 214.58 140.00 213.75C144.00 212.92 142.17 213.22 146.00 212.80C149.83 212.38 147.83 212.33 151.50 212.50C155.17 212.67 153.33 212.47 157.00 213.30C160.67 214.13 159.17 213.60 162.50 215.00C165.83 216.40 163.67 215.63 167.00 217.50C170.33 219.37 169.17 218.77 172.50 220.60C175.83 222.43 174.08 221.53 177.00 223.00C179.92 224.47 178.08 223.92 181.25 225.00C184.42 226.08 183.58 225.98 186.50 226.25C189.42 226.52 187.58 226.22 190.00 225.80C192.42 225.38 191.42 225.63 193.75 225.00C196.08 224.37 194.92 224.73 197.00 223.90C199.08 223.07 198.00 223.47 200.00 222.50C202.00 221.53 201.33 221.83 203.00 221.00C204.67 220.17 202.67 220.80 205.00 220.00C207.33 219.20 207.33 218.83 210.00 218.60C212.67 218.37 210.67 218.33 213.00 219.30C215.33 220.27 214.00 219.43 217.00 221.50C220.00 223.57 218.33 222.33 222.00 225.50C225.67 228.67 224.00 226.83 228.00 231.00C232.00 235.17 230.00 233.17 234.00 238.00C238.00 242.83 235.83 240.50 240.00 245.50C244.17 250.50 244.33 250.50 246.50 253.00"/>
<path class="b" d="M81.50 253.00C83.33 251.83 83.17 252.50 87.00 249.50C90.83 246.50 89.00 248.17 93.00 244.00C97.00 239.83 95.33 241.33 99.00 237.00C102.67 232.67 101.00 234.50 104.00 231.00C107.00 227.50 105.33 229.17 108.00 226.50C110.67 223.83 109.67 224.67 112.00 223.00C114.33 221.33 112.67 221.83 115.00 221.50C117.33 221.17 116.33 221.33 119.00 222.00C121.67 222.67 120.17 222.50 123.00 223.50C125.83 224.50 123.83 223.97 127.50 225.00C131.17 226.03 129.83 225.68 134.00 226.60C138.17 227.52 136.00 227.15 140.00 227.75C144.00 228.35 142.17 228.07 146.00 228.40C149.83 228.73 146.83 228.68 151.50 228.75C156.17 228.82 155.08 228.68 160.00 228.60C164.92 228.52 160.92 228.50 166.25 228.50C171.58 228.50 169.25 228.52 176.00 228.60C182.75 228.68 181.17 228.65 186.50 228.75C191.83 228.85 188.33 228.78 192.00 228.90C195.67 229.02 193.83 228.90 197.50 229.10C201.17 229.30 199.67 229.20 203.00 229.50C206.33 229.80 204.50 229.50 207.50 230.00C210.50 230.50 209.08 230.23 212.00 231.00C214.92 231.77 213.12 231.07 216.25 232.30C219.38 233.53 217.82 232.37 221.40 234.70C224.98 237.03 223.27 236.20 227.00 239.30C230.73 242.40 229.27 241.27 232.60 244.00C235.93 246.73 234.20 245.40 237.00 247.50C239.80 249.60 238.67 248.77 241.00 250.30C243.33 251.83 242.17 251.20 244.00 252.10C245.83 253.00 245.67 252.70 246.50 253.00"/>
</g>
<!-- legend samples -->
<path class="r" d="M143 25.5H179"/>
<path class="g" d="M143 38.5H179"/>
<path class="b" d="M143 52H179"/>
<!-- legend text -->
<g text-anchor="end">
<text x="135.2" y="28.5">Ga<tspan dy="4.2" font-size="10.67">2</tspan><tspan dy="-4.2">S</tspan><tspan dy="4.2" font-size="10.67">2</tspan></text>
<text x="135.2" y="41.5">Ga<tspan dy="4.2" font-size="10.67">2</tspan><tspan dy="-4.2">Se</tspan><tspan dy="4.2" font-size="10.67">2</tspan></text>
<text x="135.2" y="54.6">Ga<tspan dy="4.2" font-size="10.67">2</tspan><tspan dy="-4.2">Te</tspan><tspan dy="4.2" font-size="10.67">2</tspan></text>
</g>
<!-- left tick labels -->
<g text-anchor="end">
<text x="73.5" y="47">400</text>
<text x="73.5" y="100">300</text>
<text x="73.5" y="152">200</text>
<text x="73.5" y="205">100</text>
<text x="73.5" y="258">0</text>
</g>
<!-- right tick labels -->
<g text-anchor="start">
<text x="258.3" y="45">50</text>
<text x="258.3" y="88">40</text>
<text x="258.3" y="130">30</text>
<text x="258.3" y="173">20</text>
<text x="258.3" y="215">10</text>
<text x="258.3" y="258">0</text>
</g>
<!-- x labels -->
<g text-anchor="middle">
<text class="sym" x="82" y="271">&#915;</text>
<text x="151.7" y="271">K</text>
<text x="186.6" y="271">M</text>
<text class="sym" x="247" y="271">&#915;</text>
</g>
<!-- axis titles -->
<text transform="translate(33,134.5) rotate(-90)" text-anchor="middle">Frequency (cm<tspan dy="-6.7" font-size="10.67">-1</tspan><tspan dy="6.7">)</tspan></text>
<text transform="translate(296.9,134.5) rotate(-90)" text-anchor="middle">Energy (meV)</text>
</g>
</svg>
</body></html>
